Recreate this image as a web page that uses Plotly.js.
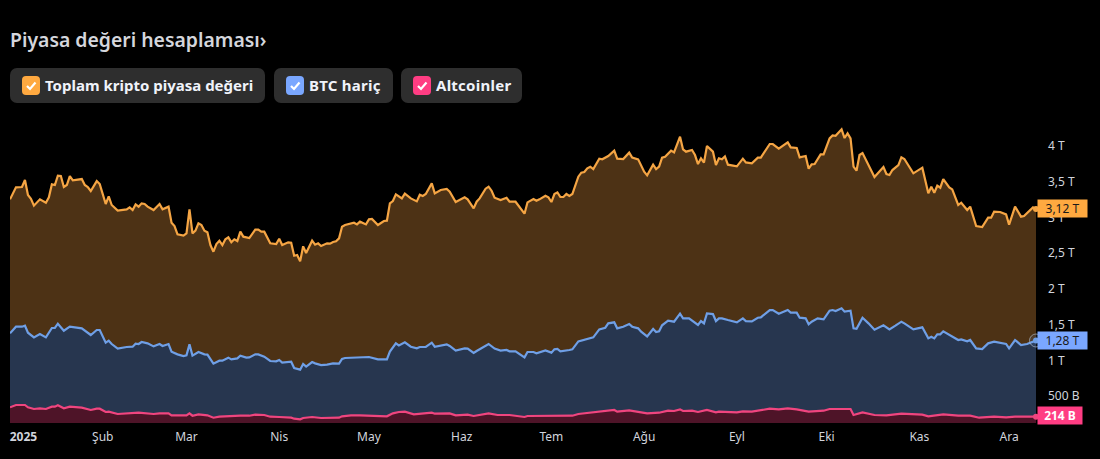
<!DOCTYPE html>
<html><head><meta charset="utf-8">
<script src="https://cdn.plot.ly/plotly-3.0.1.min.js"></script>
<style>
html,body{margin:0;padding:0;background:#000;width:1100px;height:459px;overflow:hidden}
#chart{position:absolute;left:0;top:0;width:1100px;height:459px}
.pill{position:absolute;top:68px;height:35px;background:#2e2e2e;border-radius:7px;color:#f0f3fa;font:700 15px "Noto Sans",sans-serif;line-height:35px;white-space:nowrap;box-sizing:border-box;padding-left:35px}
.pill i{position:absolute;left:12px;top:8px;width:18px;height:19px;border-radius:4px;display:block}
.pill svg{position:absolute;left:0;top:0}
</style></head><body>
<div id="chart"></div>
<div id="pills"></div>
<script>
const titleText = 'Piyasa değeri hesaplaması›';
const seriesNames = ['Toplam kripto piyasa değeri', 'BTC hariç', 'Altcoinler'];
const lineColors = ['#f5a544', '#6f9fe6', '#f0457f'];
const fillColors = ['#4d3215', '#27364f', '#4e1428'];
const chipColors = ['#ffa940', '#7aa7ff', '#ff3d83'];
const lastLabels = ['3,12 T', '1,28 T', '<b>214 B</b>'];

const monthDays = [4.5,31,59,90,120,151,181,212,243,273,304,334];
const monthLabels = ['<b>2025</b>','Şub','Mar','Nis','May','Haz','Tem','Ağu','Eyl','Eki','Kas','Ara'];
const yTicks = [0.5,1,1.5,2,2.5,3,3.5,4];
const yLabels = ['500 B','1 T','1,5 T','2 T','2,5 T','3 T','3,5 T','4 T'];

const totalDays = [0,2,4,5,6,7,8,10,12,13,14,15,16,17,18,19,20,21,24,25,26,27,29,30,32,33,34,36,39,40,41,42,43,44,45,46,48,50,51,53,54,55,56,58,59,60,61,62,63,64,65,66,67,68,69,70,71,72,73,74,75,76,77,78,80,82,83,84,85,87,89,90,91,93,94,95,96,97,98,99,101,102,103,104,106,107,108,109,110,111,112,115,116,117,119,120,121,123,125,126,127,128,129,131,132,134,136,137,138,139,141,142,144,146,147,149,152,153,155,156,157,159,160,161,162,164,166,167,169,172,173,175,176,177,179,180,181,182,183,184,185,186,187,188,190,191,192,193,194,195,197,198,200,202,203,205,207,208,210,212,213,215,216,217,218,219,221,222,224,225,226,228,229,230,231,232,233,235,236,237,238,239,240,243,245,246,248,250,251,254,255,257,260,261,263,264,266,267,268,269,271,272,274,275,276,278,279,280,281,282,283,284,285,289,292,293,294,295,297,298,299,302,305,307,308,309,310,311,312,314,315,317,318,320,321,323,325,327,328,329,331,333,334,336,338,339,342,343];
const totalVals = [3.254,3.422,3.427,3.524,3.315,3.263,3.166,3.254,3.207,3.282,3.464,3.455,3.585,3.58,3.427,3.455,3.58,3.52,3.538,3.455,3.427,3.371,3.51,3.468,3.189,3.296,3.175,3.096,3.114,3.142,3.105,3.184,3.152,3.198,3.189,3.152,3.105,3.189,3.114,3.152,2.928,2.881,2.765,2.746,2.779,3.114,2.779,2.816,2.918,2.895,2.816,2.793,2.615,2.522,2.629,2.676,2.615,2.695,2.723,2.653,2.695,2.671,2.802,2.732,2.713,2.83,2.83,2.802,2.802,2.639,2.629,2.704,2.615,2.653,2.648,2.466,2.476,2.387,2.597,2.504,2.676,2.62,2.639,2.601,2.639,2.634,2.657,2.667,2.709,2.872,2.895,2.928,2.904,2.942,2.904,2.974,2.979,2.895,2.951,2.956,3.198,3.231,3.324,3.268,3.333,3.268,3.226,3.319,3.301,3.329,3.478,3.338,3.385,3.399,3.361,3.217,3.282,3.254,3.128,3.221,3.268,3.403,3.431,3.375,3.277,3.245,3.277,3.221,3.221,3.054,3.212,3.259,3.235,3.254,3.305,3.282,3.217,3.329,3.352,3.287,3.287,3.329,3.301,3.329,3.571,3.627,3.636,3.688,3.711,3.678,3.823,3.814,3.86,3.935,3.823,3.818,3.907,3.837,3.814,3.641,3.59,3.739,3.678,3.711,3.837,3.851,3.935,3.911,4.13,3.953,3.921,3.944,3.874,3.748,3.828,3.767,4.0,3.921,3.734,3.828,3.814,3.855,3.739,3.716,3.823,3.771,3.758,3.837,3.837,4.028,4.028,3.963,4.051,3.981,3.972,3.841,3.86,3.683,3.744,3.748,3.883,3.883,4.107,4.149,4.144,4.233,4.112,4.177,4.107,3.711,3.655,3.874,3.902,3.566,3.706,3.608,3.594,3.664,3.734,3.841,3.818,3.618,3.697,3.338,3.431,3.347,3.445,3.417,3.538,3.422,3.394,3.175,3.207,3.105,3.152,2.881,2.867,2.998,2.998,3.082,3.077,3.044,2.9,3.152,3.012,3.021,3.142,3.12];

const exBtcDays = [0,2,4,5,6,8,10,12,14,15,16,18,20,24,27,29,30,32,33,34,36,39,41,42,43,44,46,48,50,51,53,54,56,58,59,60,61,63,65,66,68,70,71,73,74,76,77,79,80,82,83,85,87,89,90,91,94,95,97,98,99,101,102,104,106,108,110,111,112,115,117,120,123,126,127,129,130,132,134,136,137,139,141,142,146,147,149,152,153,155,156,157,160,162,164,166,167,169,172,173,175,176,179,181,182,183,184,187,188,190,192,195,197,199,200,202,203,205,207,208,210,211,213,215,216,217,218,220,222,224,225,227,230,231,232,233,235,236,237,238,240,243,245,246,248,250,251,254,255,257,260,261,263,264,266,267,268,270,272,274,275,276,278,279,281,282,283,285,287,289,292,294,296,298,299,302,305,307,308,309,310,311,312,314,317,318,320,321,323,325,327,329,333,334,336,338,340,343];
const exBtcVals = [1.38,1.473,1.473,1.487,1.389,1.324,1.371,1.324,1.455,1.455,1.515,1.417,1.473,1.45,1.357,1.427,1.427,1.249,1.277,1.231,1.166,1.189,1.193,1.235,1.231,1.259,1.24,1.198,1.231,1.203,1.231,1.124,1.086,1.063,1.072,1.226,1.068,1.119,1.086,1.082,0.956,0.998,0.998,1.04,1.016,1.03,1.068,1.04,1.044,1.086,1.086,1.054,0.993,0.988,1.007,0.97,0.984,0.895,0.872,0.951,0.914,0.979,0.96,0.937,0.942,0.96,0.956,1.021,1.035,1.04,1.044,1.049,1.016,1.016,1.124,1.24,1.212,1.254,1.193,1.17,1.189,1.189,1.249,1.193,1.226,1.203,1.138,1.17,1.166,1.105,1.133,1.156,1.231,1.166,1.138,1.147,1.128,1.128,1.044,1.119,1.119,1.1,1.142,1.11,1.156,1.161,1.128,1.147,1.156,1.268,1.287,1.324,1.436,1.459,1.52,1.534,1.45,1.473,1.51,1.473,1.45,1.403,1.338,1.441,1.399,1.408,1.492,1.557,1.543,1.655,1.59,1.59,1.497,1.552,1.52,1.66,1.65,1.552,1.59,1.59,1.566,1.534,1.59,1.552,1.548,1.599,1.604,1.706,1.706,1.655,1.706,1.669,1.669,1.599,1.59,1.506,1.543,1.59,1.576,1.697,1.706,1.692,1.73,1.683,1.697,1.45,1.445,1.599,1.52,1.431,1.492,1.436,1.487,1.543,1.52,1.436,1.464,1.31,1.333,1.31,1.366,1.366,1.408,1.357,1.287,1.296,1.268,1.287,1.17,1.161,1.24,1.263,1.231,1.17,1.287,1.217,1.231,1.28];

const altDays = [0,2,5,6,8,10,12,14,15,16,18,20,24,27,29,30,32,33,36,41,43,48,50,53,54,59,60,61,63,66,68,70,73,77,80,82,85,87,90,94,95,97,98,101,104,110,111,114,117,126,128,130,132,135,141,142,147,149,153,155,160,163,167,172,173,176,179,181,183,188,190,197,202,203,207,213,215,217,220,222,224,225,228,230,233,236,237,238,243,245,248,254,257,260,263,267,272,274,281,282,285,289,293,298,305,307,312,317,321,324,329,333,336,343];
const altVals = [0.345,0.378,0.378,0.345,0.322,0.331,0.322,0.354,0.354,0.373,0.331,0.354,0.34,0.308,0.326,0.326,0.28,0.284,0.252,0.261,0.27,0.252,0.261,0.261,0.233,0.233,0.261,0.228,0.247,0.233,0.2,0.214,0.224,0.228,0.228,0.242,0.238,0.214,0.21,0.2,0.186,0.177,0.196,0.21,0.196,0.2,0.219,0.233,0.233,0.219,0.261,0.28,0.284,0.247,0.27,0.256,0.261,0.233,0.242,0.224,0.261,0.238,0.238,0.21,0.224,0.224,0.233,0.224,0.233,0.228,0.252,0.284,0.308,0.284,0.303,0.261,0.27,0.27,0.298,0.294,0.317,0.294,0.298,0.28,0.308,0.275,0.284,0.284,0.275,0.289,0.284,0.326,0.317,0.331,0.317,0.284,0.298,0.322,0.322,0.238,0.275,0.238,0.233,0.256,0.242,0.219,0.247,0.228,0.228,0.2,0.214,0.205,0.214,0.214];

function toDate(d){
  const ms = Date.UTC(2025,0,1) + Math.round(d*24)*3600000;
  return new Date(ms).toISOString().slice(0,16).replace('T',' ');
}
const daySets = [totalDays, exBtcDays, altDays];
const valSets = [totalVals, exBtcVals, altVals];
const font = '"Noto Sans", sans-serif';

const traces = [];
daySets.forEach((days,i)=>{
  traces.push({type:'scatter',mode:'lines',name:seriesNames[i],x:days.map(toDate),y:valSets[i],
    fill:'tozeroy',fillcolor:fillColors[i],line:{color:lineColors[i],width:2.2},hoverinfo:'skip',showlegend:false});
});
traces.push({type:'scatter',mode:'markers',x:[toDate(exBtcDays[exBtcDays.length-1])],y:[exBtcVals[exBtcVals.length-1]],
  marker:{size:13,color:'rgba(111,159,230,0.12)',line:{color:'rgba(170,180,195,0.7)',width:1}},cliponaxis:false,hoverinfo:'skip',showlegend:false});
daySets.forEach((days,i)=>{
  traces.push({type:'scatter',mode:'markers',x:[toDate(days[days.length-1])],y:[valSets[i][valSets[i].length-1]],
    marker:{size:6,color:lineColors[i]},cliponaxis:false,hoverinfo:'skip',showlegend:false});
});

const labelColors = ['#ffa940','#7aa7ff','#ff3d83'];
const labelText = ['#1a1a1a','#1a1a1a','#ffffff'];
const annotations = valSets.map((v,i)=>({
  xref:'paper',yref:'y',x:1,y:v[v.length-1]+(i===2?0.02:0),xanchor:'left',yanchor:'middle',xshift:1,
  text:lastLabels[i],showarrow:false,bgcolor:labelColors[i],borderpad:0,
  width:i===2?44:49,height:17,align:'center',font:{family:font,size:12,color:labelText[i]}
}));

Plotly.newPlot('chart',traces,{
  width:1100,height:459,paper_bgcolor:'#000',plot_bgcolor:'#000',
  margin:{l:10,r:64,t:120,b:36},showlegend:false,
  title:{text:titleText,x:10/1100,xanchor:'left',y:1-40/459,yanchor:'middle',font:{family:font,size:19.4,color:'#d4d6dc',weight:600}},
  xaxis:{type:'date',range:[toDate(0),toDate(343)],tickmode:'array',tickvals:monthDays.map(toDate),ticktext:monthLabels,
    showgrid:false,zeroline:false,showline:false,ticks:'',tickfont:{family:font,size:12,color:'#d1d4dc'},ticklabelstandoff:5,fixedrange:true},
  yaxis:{side:'right',range:[0.126,4.364],tickmode:'array',tickvals:yTicks,ticktext:yLabels,
    showgrid:false,zeroline:false,showline:false,ticks:'',tickfont:{family:font,size:12,color:'#d1d4dc'},ticklabelstandoff:11,fixedrange:true},
  annotations
},{displayModeBar:false,staticPlot:true});

const pillBox = [[10,255],[274,119],[401,121]];
const pillSpacing = [0,0.25,0.25];
document.getElementById('pills').innerHTML = seriesNames.map((n,i)=>
 `<div class="pill" style="left:${pillBox[i][0]}px;width:${pillBox[i][1]}px;letter-spacing:${pillSpacing[i]}px"><i style="background:${chipColors[i]}"><svg width="18" height="19" viewBox="0 0 18 19"><path d="M5 10l3 3 5.5-6.5" fill="none" stroke="#fff" stroke-width="2.2"/></svg></i>${n}</div>`).join('');
</script>
</body></html>
